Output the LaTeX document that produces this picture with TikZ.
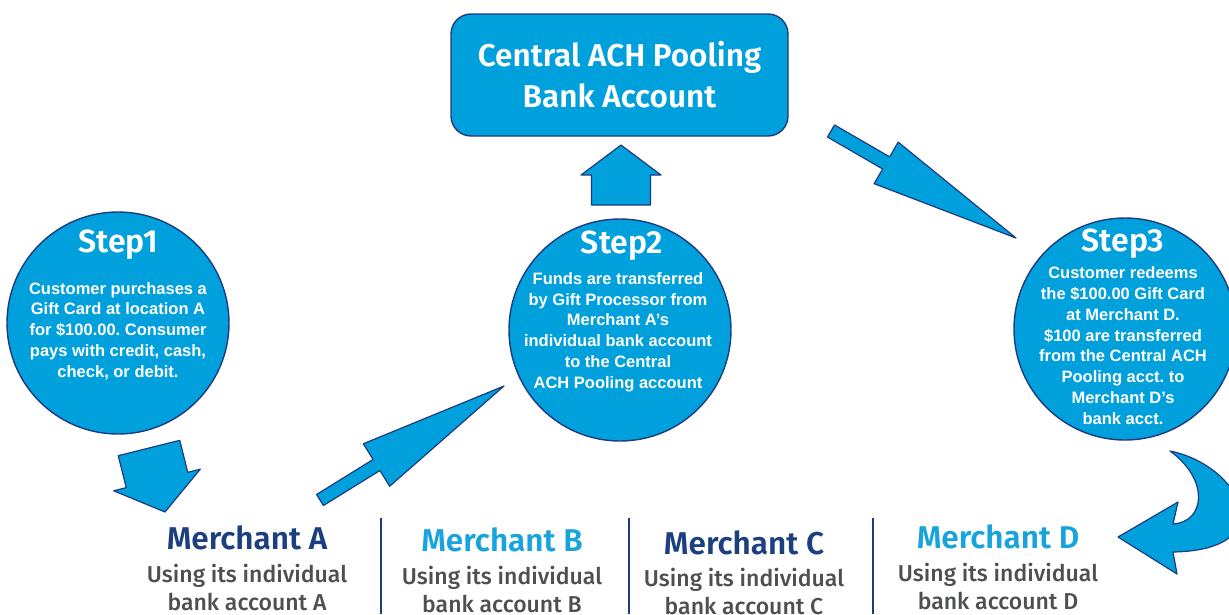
\documentclass[tikz,border=0pt]{standalone}
\usepackage{fontspec}
\setmainfont{Liberation Sans}
\newfontfamily\headfont{Fira Sans SemiBold}
\newfontfamily\medfont{Fira Sans Medium}
\usetikzlibrary{calc}
\frenchspacing

\definecolor{stepblue}{RGB}{0,160,221}
\definecolor{edgeblue}{RGB}{30,58,128}
\definecolor{merchdark}{RGB}{28,63,128}
\definecolor{merchlight}{RGB}{22,163,222}
\definecolor{textgray}{RGB}{77,79,83}

% block arrow: from, to, half shaft width, half head width, head length
\newcommand{\blockarrow}[5]{%
  \coordinate (#1-#2) at ($(#2)!#5!(#1)$);
  \draw[arrowbody] ($(#1)!#3!90:(#2)$) -- ($(#1-#2)!#3!90:(#2)$)
    -- ($(#1-#2)!#4!90:(#2)$) -- (#2) -- ($(#1-#2)!#4!-90:(#2)$)
    -- ($(#1-#2)!#3!-90:(#2)$) -- ($(#1)!#3!-90:(#2)$) -- cycle;
}

\begin{document}
\begin{tikzpicture}[x=1pt, y=1pt]
                \tikzstyle{arrowbody} = [fill=stepblue, draw=edgeblue, line width=1.2pt, line join=round]
                \tikzstyle{stepcircle} = [circle, fill=stepblue, draw=edgeblue, line width=1.4pt, minimum size=222pt, inner sep=0pt]
                \tikzstyle{steptitle} = [text=white, font=\headfont\fontsize{32}{32}\selectfont]
                \tikzstyle{steptext} = [text=white, align=center, inner sep=0pt, font=\bfseries\fontsize{16.5}{20.8}\selectfont]
                \tikzstyle{poolbox} = [rectangle, rounded corners=20pt, fill=stepblue, draw=edgeblue, line width=1.4pt, minimum width=337pt, minimum height=122pt, text=white, align=center, font=\headfont\fontsize{31.5}{41}\selectfont]
                \tikzstyle{merchname} = [font=\headfont\fontsize{31.5}{31.5}\selectfont]
                \tikzstyle{merchtext} = [text=textgray, align=center, inner sep=0pt, font=\medfont\fontsize{23}{28}\selectfont]
                \tikzstyle{sepline} = [draw=edgeblue, line width=1.6pt]
                \useasboundingbox (0,0) rectangle (1229,-614);
                % arrows
                \coordinate (s1tail) at (149,-448);
                \coordinate (s1tip) at (165,-512);
                \blockarrow{s1tail}{s1tip}{31.7pt}{44.6pt}{33pt}
                \coordinate (matail) at (320,-500);
                \coordinate (matip) at (504,-386);
                \blockarrow{matail}{matip}{6.5pt}{25pt}{150pt}
                \coordinate (s2tail) at (621,-205);
                \coordinate (s2tip) at (621,-145);
                \blockarrow{s2tail}{s2tip}{29.5pt}{40pt}{30pt}
                \coordinate (pooltail) at (831,-131);
                \coordinate (pooltip) at (1016,-238);
                \blockarrow{pooltail}{pooltip}{7pt}{24pt}{150pt}
                \draw[arrowbody] (1170,-451) .. controls (1240,-465) and (1285,-550) .. (1173,-552)
                    -- (1177,-574) -- (1118,-537) -- (1178,-502) -- (1173,-524)
                    .. controls (1205,-522) and (1210,-480) .. (1170,-451) -- cycle;
                % central account
                \node[poolbox] (pool) at (619.5,-75) {Central ACH Pooling\\Bank Account};
                % steps
                \node[stepcircle] (step1) at (118,-323) {};
                \node[steptitle] (step1title) at (118,-245) {Step1};
                \node[steptext] (step1text) at (118,-331) {Customer purchases a\\Gift Card at location A\\for \$100.00. Consumer\\pays with credit, cash,\\check, or debit.};
                \node[stepcircle] (step2) at (620,-330) {};
                \node[steptitle] (step2title) at (622,-246) {Step2};
                \node[steptext] (step2text) at (618,-332) {Funds are transferred\\by Gift Processor from\\Merchant A's\\individual bank account\\to the Central\\ACH Pooling account};
                \node[stepcircle] (step3) at (1125,-329) {};
                \node[steptitle] (step3title) at (1123,-244) {Step3};
                \node[steptext] (step3text) at (1123,-345.5) {Customer redeems\\the \$100.00 Gift Card\\at Merchant D.\\\$100 are transferred\\from the Central ACH\\Pooling acct. to\\Merchant D's\\bank acct.};
                % merchants
                \foreach \x in {381,629,873}
                    \draw[sepline] (\x,-518) -- (\x,-614);
                \node[merchname, text=merchdark] (mercha) at (247,-538) {Merchant A};
                \node[merchtext] (merchatext) at (247,-587) {Using its individual\\bank account A};
                \node[merchname, text=merchlight] (merchb) at (502,-540) {Merchant B};
                \node[merchtext] (merchbtext) at (502,-589) {Using its individual\\bank account B};
                \node[merchname, text=merchdark] (merchc) at (744,-543) {Merchant C};
                \node[merchtext] (merchctext) at (744,-591) {Using its individual\\bank account C};
                \node[merchname, text=merchlight] (merchd) at (998,-537) {Merchant D};
                \node[merchtext] (merchdtext) at (998,-586) {Using its individual\\bank account D};
            \end{tikzpicture}
\end{document}
